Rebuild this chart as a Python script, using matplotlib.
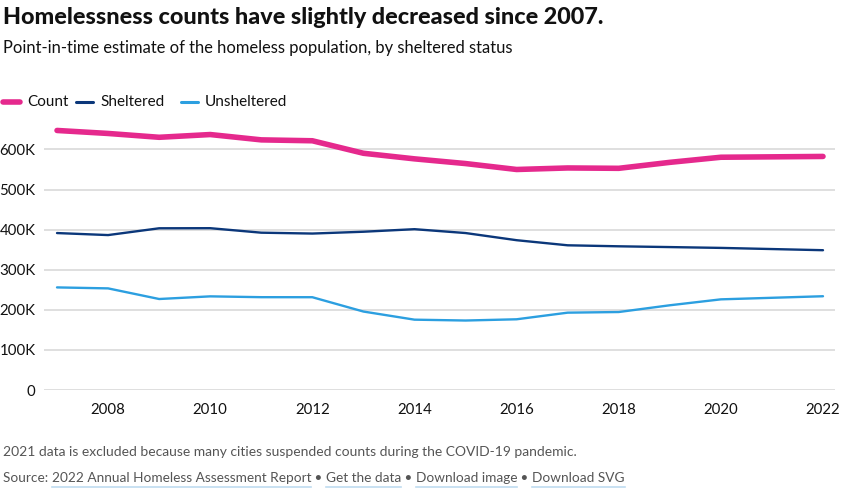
import matplotlib
matplotlib.use("Agg")
import matplotlib.pyplot as plt
from matplotlib.lines import Line2D

plt.rcParams['font.family'] = ['Lato', 'DejaVu Sans']

# 2021 skipped (no count that year)
years = [2007, 2008, 2009, 2010, 2011, 2012, 2013, 2014, 2015, 2016, 2017, 2018, 2019, 2020, 2022]
count = [647258, 639784, 630227, 637077, 623788, 621553, 590364, 576450, 564708, 549928,
         553742, 552830, 567715, 580466, 582462]
sheltered = [391401, 386361, 403308, 403543, 392316, 390155, 394698, 401051, 391440, 373571,
             360867, 358363, 356422, 354386, 348630]
unsheltered = [255857, 253423, 226919, 233534, 231472, 231398, 195666, 175399, 173268, 176357,
               192875, 194467, 211293, 226080, 233832]

series_names = ['Count', 'Sheltered', 'Unsheltered']
colors = ['#e5298d', '#0b377a', '#2c9fe0']
widths = [4.0, 1.7, 1.7]

yticks = [0, 100000, 200000, 300000, 400000, 500000, 600000]
ytick_labels = ['0', '100K', '200K', '300K', '400K', '500K', '600K']
xticks = [2008, 2010, 2012, 2014, 2016, 2018, 2020, 2022]

W, H = 861, 490
fig = plt.figure(figsize=(W / 100, H / 100), dpi=100)

# axes placed in pixels: left 44, right 835, y=0 at 390, top at 129
ax = fig.add_axes([44 / W, (H - 390) / H, 791 / W, 261 / H])
ax.set_xlim(2006.745, 2022.235)
ax.set_ylim(0, 650900)

for vals, c, lw in zip([count, sheltered, unsheltered], colors, widths):
    ax.plot(years, vals, color=c, lw=lw, solid_capstyle='round', solid_joinstyle='round',
            clip_on=False, zorder=3)

ax.set_yticks(yticks)
ax.set_yticklabels(ytick_labels)
ax.set_xticks(xticks)
ax.tick_params(axis='both', length=0, labelsize=10.8, colors='#111111')
ax.tick_params(axis='y', pad=6)
ax.tick_params(axis='x', pad=9)
for lab in ax.get_yticklabels():
    lab.set_horizontalalignment('right')
ax.grid(axis='y', color='#dcdcdc', lw=1.3)
ax.set_axisbelow(True)
for s in ax.spines.values():
    s.set_visible(False)

# titles
fig.text(3 / W, 1 - 17 / H, 'Homelessness counts have slightly decreased since 2007.',
         fontsize=16.8, fontweight='black', color='#111111', va='center', ha='left')
fig.text(3 / W, 1 - 48 / H, 'Point-in-time estimate of the homeless population, by sheltered status',
         fontsize=11.9, color='#111111', va='center', ha='left')

# legend drawn by hand along one row
ly = 1 - 102 / H
lx = [(3, 20, 27), (76, 93, 100), (181, 198, 205)]
for (x0, x1, xt), name, c, lw in zip(lx, series_names, colors, widths):
    fig.add_artist(Line2D([x0 / W, x1 / W], [ly, ly], color=c, lw=lw if lw > 2 else 2.2,
                          solid_capstyle='round', transform=fig.transFigure))
    fig.text(xt / W, ly, name, fontsize=11, color='#111111', va='center', ha='left')

# footer
fig.text(3 / W, 1 - 452 / H,
         '2021 data is excluded because many cities suspended counts during the COVID-19 pandemic.',
         fontsize=10, color='#555555', va='center', ha='left')

fig.canvas.draw()
renderer = fig.canvas.get_renderer()
pieces = [('Source: ', False), ('2022 Annual Homeless Assessment Report', True), (' \u2022 ', False),
          ('Get the data', True), (' \u2022 ', False), ('Download image', True), (' \u2022 ', False),
          ('Download SVG', True)]
x = 3.0
fy = 478
for txt, link in pieces:
    t = fig.text(x / W, 1 - fy / H, txt, fontsize=9.8, color='#555555', va='center', ha='left')
    bb = t.get_window_extent(renderer)
    if link:
        fig.add_artist(Line2D([x / W, (x + bb.width) / W], [1 - (fy + 9) / H] * 2,
                              color='#bfdcf0', lw=1.2, transform=fig.transFigure))
    x += bb.width

fig.savefig('out.png', dpi=100)
